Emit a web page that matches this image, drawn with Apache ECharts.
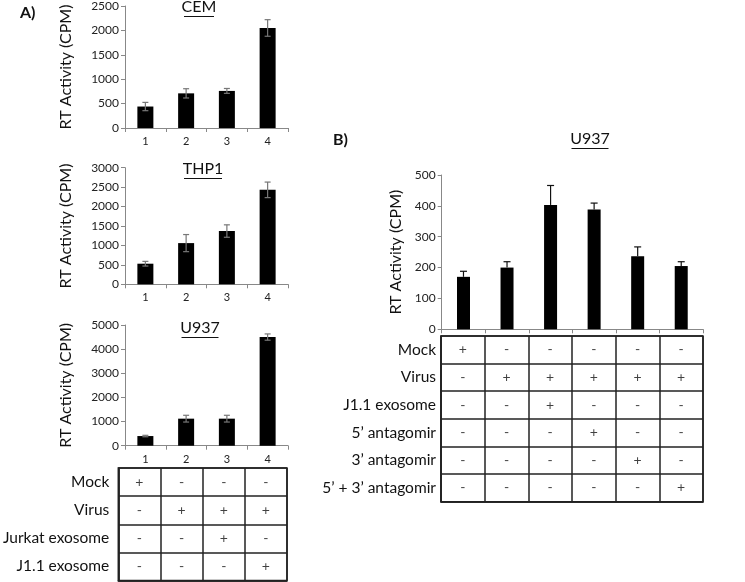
<!DOCTYPE html>
<html>
<head>
<meta charset="utf-8">
<script src="https://cdn.jsdelivr.net/npm/echarts@6/dist/echarts.min.js"></script>
<style>html,body{margin:0;padding:0;background:#fff}#c{width:745px;height:582px}</style>
</head>
<body>
<div id="c"></div>
<script>
// ---- data ----
const catsA = ['1', '2', '3', '4'];
const cemVals = [440, 710, 760, 2050];
const cemErr = [85, 95, 50, 170];
const thp1Vals = [530, 1060, 1370, 2430];
const thp1Err = [60, 220, 160, 200];
const u937AVals = [400, 1120, 1120, 4500];
const u937AErr = [30, 140, 140, 130];

const catsB = ['1', '2', '3', '4', '5', '6'];
const u937BVals = [170, 200, 403, 388, 237, 205];
const u937BErr = [18, 19, 63, 21, 30, 14];

const rowsA = ['Mock', 'Virus', 'Jurkat exosome', 'J1.1 exosome'];
const marksA = [
  ['+', '-', '-', '-'],
  ['-', '+', '+', '+'],
  ['-', '-', '+', '-'],
  ['-', '-', '-', '+']
];
const rowsB = ['Mock', 'Virus', 'J1.1 exosome', '5’ antagomir', '3’ antagomir', '5’ + 3’ antagomir'];
const marksB = [
  ['+', '-', '-', '-', '-', '-'],
  ['-', '+', '+', '+', '+', '+'],
  ['-', '-', '+', '-', '-', '-'],
  ['-', '-', '-', '+', '-', '-'],
  ['-', '-', '-', '-', '+', '-'],
  ['-', '-', '-', '-', '-', '+']
];

const FONT = 'Lato, "Noto Sans", sans-serif';

// ---- layout ----
const grids = [
  {left: 125, top: 6, width: 163, height: 122},      // CEM
  {left: 125, top: 167.7, width: 163, height: 116.6}, // THP1
  {left: 125, top: 325, width: 163, height: 120.7},  // U937 A
  {left: 441.7, top: 175, width: 261.3, height: 154.3}, // U937 B
  {left: 117, top: 468, width: 170, height: 112.5, show: true, borderColor: '#222', borderWidth: 1.5}, // table A
  {left: 441, top: 336, width: 262, height: 165.7, show: true, borderColor: '#222', borderWidth: 1.5}  // table B
];

function valueAxis(gi, max, interval, nameGap) {
  return {
    type: 'value', gridIndex: gi, min: 0, max: max, interval: interval,
    name: 'RT Activity (CPM)', nameLocation: 'middle', nameGap: nameGap,
    nameTextStyle: {fontFamily: FONT, fontSize: 16, color: '#111'},
    axisLine: {show: true, lineStyle: {color: '#888', width: 1}},
    axisTick: {show: true, length: 4, lineStyle: {color: '#888'}},
    axisLabel: {fontFamily: FONT, fontSize: 12, color: '#222', margin: 6, formatter: v => String(v)},
    splitLine: {show: false}
  };
}
function catAxis(gi, cats, showLabels) {
  return {
    type: 'category', gridIndex: gi, data: cats, boundaryGap: true,
    axisLine: {show: true, lineStyle: {color: '#888', width: 1}},
    axisTick: {show: true, length: 4, lineStyle: {color: '#888'}},
    axisLabel: {show: showLabels, fontFamily: FONT, fontSize: 11, color: '#222', margin: 8}
  };
}
function tableX(gi, n) {
  return {
    type: 'category', gridIndex: gi, data: Array.from({length: n}, (_, i) => 'c' + i), boundaryGap: true,
    axisLine: {show: true, lineStyle: {color: '#222', width: 1.5}},
    axisTick: {show: false}, axisLabel: {show: false},
    splitLine: {show: true, lineStyle: {color: '#222', width: 1.5}}
  };
}
function tableY(gi, rows, margin) {
  return {
    type: 'category', gridIndex: gi, data: rows, inverse: true, boundaryGap: true,
    axisLine: {show: true, lineStyle: {color: '#222', width: 1.5}},
    axisTick: {show: false},
    axisLabel: {fontFamily: FONT, fontSize: 15.5, color: '#111', margin: margin},
    splitLine: {show: true, lineStyle: {color: '#222', width: 1.5}}
  };
}

function barSeries(ai, vals, w) {
  return {type: 'bar', xAxisIndex: ai, yAxisIndex: ai, data: vals, barWidth: w,
    itemStyle: {color: '#000'}, silent: true, animation: false};
}
function errSeries(ai, vals, errs, oneSided, cap, color) {
  return {
    type: 'custom', xAxisIndex: ai, yAxisIndex: ai, z: 5, animation: false, silent: true,
    data: vals.map((v, i) => [i, v, errs[i]]),
    renderItem: function (params, api) {
      const x = api.value(0), v = api.value(1), e = api.value(2);
      const t = api.coord([x, v + e]);
      const b = api.coord([x, oneSided ? v : v - e]);
      const st = {stroke: color, lineWidth: 1.2};
      const ch = [
        {type: 'line', shape: {x1: t[0], y1: t[1], x2: b[0], y2: b[1]}, style: st},
        {type: 'line', shape: {x1: t[0] - cap / 2, y1: t[1], x2: t[0] + cap / 2, y2: t[1]}, style: st}
      ];
      if (!oneSided) ch.push({type: 'line', shape: {x1: b[0] - cap / 2, y1: b[1], x2: b[0] + cap / 2, y2: b[1]}, style: st});
      return {type: 'group', children: ch};
    }
  };
}
function cellSeries(ai, marks) {
  const d = [];
  marks.forEach((row, r) => row.forEach((m, c) => d.push([c, r, m])));
  return {
    type: 'scatter', xAxisIndex: ai, yAxisIndex: ai, data: d, symbolSize: 1, animation: false, silent: true,
    itemStyle: {color: 'rgba(0,0,0,0)'},
    label: {show: true, position: 'inside', formatter: p => p.value[2], fontFamily: FONT, fontSize: 14, color: '#111'}
  };
}

function titleText(txt, cx, cy, w) {
  return [
    {type: 'text', style: {text: txt, x: cx, y: cy, textAlign: 'center', textVerticalAlign: 'middle', font: '16px ' + FONT, fill: '#111'}},
    {type: 'line', shape: {x1: cx - w / 2, y1: cy + 9.5, x2: cx + w / 2, y2: cy + 9.5}, style: {stroke: '#111', lineWidth: 1}}
  ];
}

const chart = echarts.init(document.getElementById('c'), null, {renderer: 'canvas'});
chart.setOption({
  animation: false,
  grid: grids,
  xAxis: [catAxis(0, catsA, true), catAxis(1, catsA, true), catAxis(2, catsA, true), catAxis(3, catsB, false),
          tableX(4, catsA.length), tableX(5, catsB.length)],
  yAxis: [valueAxis(0, 2500, 500, 51), valueAxis(1, 3000, 500, 51), valueAxis(2, 5000, 1000, 51), valueAxis(3, 500, 100, 38),
          tableY(4, rowsA, 9), tableY(5, rowsB, 5)],
  series: [
    barSeries(0, cemVals, 16), errSeries(0, cemVals, cemErr, false, 6, '#777'),
    barSeries(1, thp1Vals, 16), errSeries(1, thp1Vals, thp1Err, false, 6, '#777'),
    barSeries(2, u937AVals, 16), errSeries(2, u937AVals, u937AErr, false, 6, '#777'),
    barSeries(3, u937BVals, 13), errSeries(3, u937BVals, u937BErr, true, 7, '#111'),
    cellSeries(4, marksA), cellSeries(5, marksB)
  ],
  graphic: [].concat(
    titleText('CEM', 199, 7, 30),
    titleText('THP1', 203, 169, 38),
    titleText('U937', 200, 328, 37),
    titleText('U937', 590, 139, 37),
    [
      {type: 'text', style: {text: 'A)', x: 20, y: 13, textVerticalAlign: 'middle', font: 'bold 16px ' + FONT, fill: '#111'}},
      {type: 'text', style: {text: 'B)', x: 333, y: 140, textVerticalAlign: 'middle', font: 'bold 16px ' + FONT, fill: '#111'}}
    ]
  )
});
</script>
</body>
</html>
